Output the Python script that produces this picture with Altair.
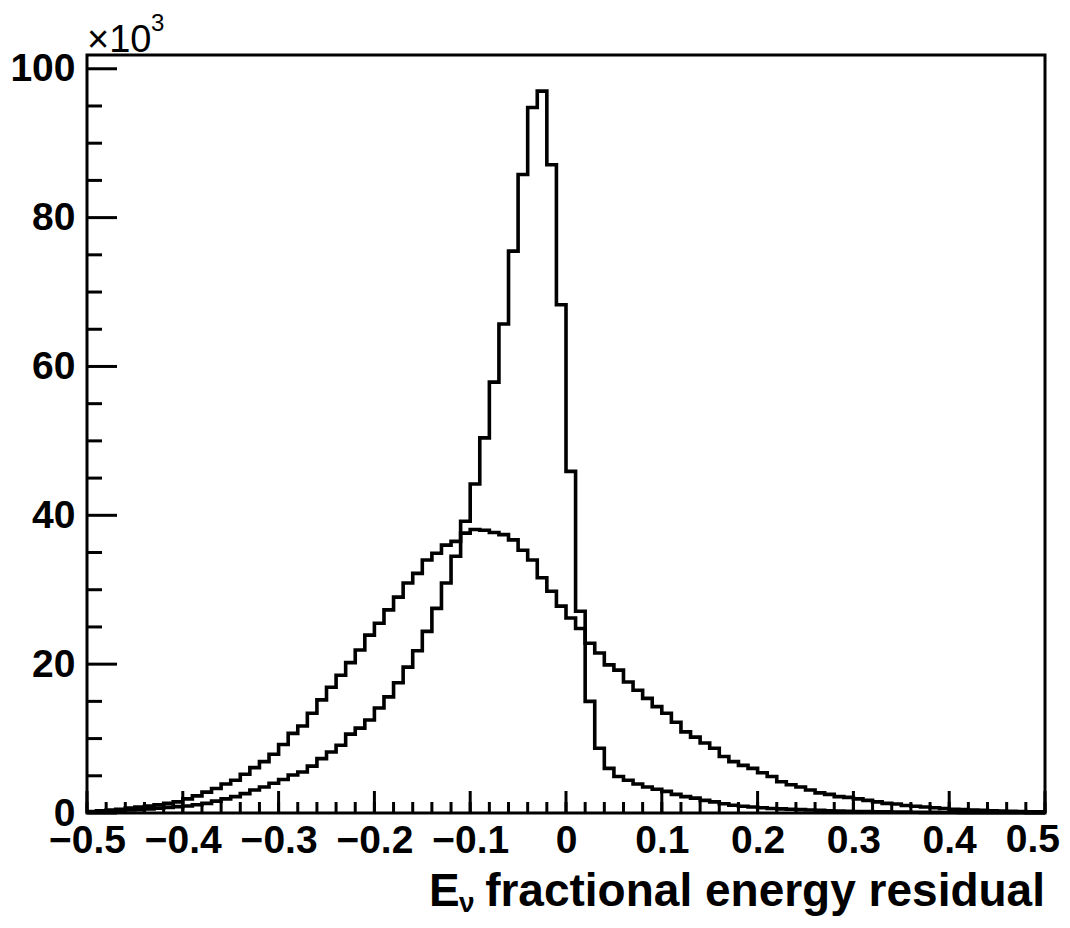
import altair as alt
import pandas as pd

# ---- histogram definition (100 bins from -0.5 to 0.5) ----
bin_lo = -0.5
bin_hi = 0.5
n_bins = 100

# bin contents (in units of 10^3 entries)
narrow = [0.15, 0.2, 0.25, 0.3, 0.4, 0.45, 0.55, 0.65, 0.75, 0.85,
          0.95, 1.1, 1.3, 1.6, 1.9, 2.2, 2.6, 3.1, 3.5, 4.0,
          4.5, 5.1, 5.5, 6.3, 7.3, 8.2, 9.1, 10.6, 11.4, 12.5,
          14.1, 15.6, 17.5, 19.6, 21.8, 24.4, 27.5, 30.9, 34.5, 39.2,
          44.2, 50.4, 57.9, 65.7, 75.5, 85.8, 94.8, 97.0, 87.1, 68.3,
          45.9, 27.1, 15.0, 8.7, 6.0, 4.9, 4.4, 3.9, 3.5, 3.2,
          2.9, 2.5, 2.2, 2.0, 1.7, 1.5, 1.25, 1.05, 0.9, 0.8,
          0.7, 0.6, 0.55, 0.5, 0.45, 0.4, 0.35, 0.3, 0.27, 0.24,
          0.21, 0.19, 0.17, 0.15, 0.13, 0.12, 0.1, 0.09, 0.08, 0.07,
          0.06, 0.05, 0.05, 0.04, 0.04, 0.03, 0.03, 0.03, 0.02, 0.02]

broad = [0.2, 0.3, 0.4, 0.5, 0.65, 0.8, 0.95, 1.1, 1.3, 1.5,
         1.9, 2.3, 2.8, 3.3, 3.9, 4.4, 5.2, 6.1, 6.9, 7.9,
         9.2, 10.7, 11.7, 13.4, 15.2, 16.9, 18.5, 20.2, 21.9, 23.9,
         25.5, 27.3, 29.0, 30.9, 32.2, 34.0, 34.9, 36.0, 36.5, 37.6,
         38.1, 38.0, 37.7, 37.4, 36.7, 35.3, 34.0, 31.6, 29.8, 27.8,
         26.2, 24.8, 22.8, 21.5, 19.9, 19.2, 17.6, 16.5, 15.4, 14.3,
         13.4, 12.2, 10.9, 10.2, 9.4, 8.7, 7.6, 6.9, 6.4, 6.0,
         5.4, 4.9, 4.2, 3.8, 3.5, 3.1, 2.7, 2.5, 2.2, 2.1,
         1.9, 1.7, 1.5, 1.3, 1.2, 1.0, 0.9, 0.8, 0.7, 0.6,
         0.5, 0.45, 0.4, 0.35, 0.3, 0.25, 0.22, 0.2, 0.17, 0.15]

x_major = [-0.5, -0.4, -0.3, -0.2, -0.1, 0.0, 0.1, 0.2, 0.3, 0.4, 0.5]
x_minor = [round(-0.5 + 0.02 * k, 2) for k in range(51)]
y_major = [0, 20, 40, 60, 80, 100]
y_minor = [v for v in range(0, 101, 5) if v % 20 != 0]
y_top = 101.85

x_title_E = "E"
x_title_sub = "\u03bd"
x_title_rest = "fractional energy residual"
exp_text = "\u00d710"
exp_power = "3"

# ---- build table ----
edges = [round(bin_lo + i * (bin_hi - bin_lo) / n_bins, 4) for i in range(n_bins + 1)]
rows = []
for name, vals in (("narrow", narrow), ("broad", broad)):
    for e, v in zip(edges, vals + [vals[-1]]):
        rows.append({"series": name, "x": e, "y": v})
df = pd.DataFrame(rows)

W, H = 958, 758
FONT = "Liberation Sans, Arial, sans-serif"
FS = 39
TFS = 46

xs = alt.Scale(domain=[bin_lo, bin_hi], nice=False, zero=False)
ysc = alt.Scale(domain=[0, y_top], nice=False, zero=True)

lines = alt.Chart(df).mark_line(
    interpolate="step-after", color="black", strokeWidth=3.6
).encode(
    x=alt.X("x:Q", scale=xs, axis=alt.Axis(
        values=x_major[:-1], format=".1~f", ticks=False, domain=False, grid=False,
        labelFont=FONT, labelFontSize=FS, labelFontWeight="bold",
        labelColor="black", labelPadding=8, labelOverlap=False,
        labelFlush=False, title=None)),
    y=alt.Y("y:Q", scale=ysc, axis=alt.Axis(
        values=y_major, format="d", ticks=False, domain=False, grid=False,
        labelFont=FONT, labelFontSize=FS, labelFontWeight="bold",
        labelColor="black", labelPadding=12, labelOverlap=False,
        labelFlush=False, title=None)),
    detail="series:N",
)

# last x label drawn separately so it stays inside the page
last_lab = alt.Chart(pd.DataFrame({"v": [x_major[-1]], "t": ["0.5"]})).mark_text(
    font=FONT, fontSize=FS, fontWeight="bold", align="right", baseline="top",
    color="black", dx=15).encode(
    x=alt.X("v:Q", scale=xs), y=alt.value(H + 8), text="t:N")

ymaj = alt.Chart(pd.DataFrame({"v": y_major})).mark_rule(
    color="black", strokeWidth=3).encode(
    y=alt.Y("v:Q", scale=ysc), x=alt.value(0), x2=alt.value(30))
ymin = alt.Chart(pd.DataFrame({"v": y_minor})).mark_rule(
    color="black", strokeWidth=3).encode(
    y=alt.Y("v:Q", scale=ysc), x=alt.value(0), x2=alt.value(15))
xmaj = alt.Chart(pd.DataFrame({"v": x_major})).mark_rule(
    color="black", strokeWidth=3).encode(
    x=alt.X("v:Q", scale=xs), y=alt.value(H), y2=alt.value(H - 22))
xmin = alt.Chart(pd.DataFrame({"v": x_minor})).mark_rule(
    color="black", strokeWidth=3).encode(
    x=alt.X("v:Q", scale=xs), y=alt.value(H), y2=alt.value(H - 11))

t_E = alt.Chart(pd.DataFrame({"t": [x_title_E]})).mark_text(
    font=FONT, fontSize=TFS, fontWeight="bold", align="left", baseline="alphabetic",
    color="black").encode(text="t:N", x=alt.value(342), y=alt.value(851))
t_nu = alt.Chart(pd.DataFrame({"t": [x_title_sub]})).mark_text(
    font=FONT, fontSize=28, fontWeight="bold", align="left", baseline="alphabetic",
    color="black").encode(text="t:N", x=alt.value(372), y=alt.value(857))
t_rest = alt.Chart(pd.DataFrame({"t": [x_title_rest]})).mark_text(
    font=FONT, fontSize=TFS, fontWeight="bold", align="right", baseline="alphabetic",
    color="black").encode(text="t:N", x=alt.value(W), y=alt.value(851))
t_exp = alt.Chart(pd.DataFrame({"t": [exp_text]})).mark_text(
    font=FONT, fontSize=38, align="left", baseline="alphabetic",
    color="black").encode(text="t:N", x=alt.value(0), y=alt.value(-3))
t_pow = alt.Chart(pd.DataFrame({"t": [exp_power]})).mark_text(
    font=FONT, fontSize=24, align="left", baseline="alphabetic",
    color="black").encode(text="t:N", x=alt.value(64), y=alt.value(-24))

chart = alt.layer(
    ymin, ymaj, xmin, xmaj, lines, last_lab, t_E, t_nu, t_rest, t_exp, t_pow
).properties(
    width=W, height=H,
    autosize=alt.AutoSizeParams(type="none"),
    padding={"left": 79, "top": 47, "right": 15, "bottom": 106},
    background="white",
).configure_view(stroke="black", strokeWidth=3)

chart.save("out.html", embed_options={"renderer": "svg", "actions": False})
